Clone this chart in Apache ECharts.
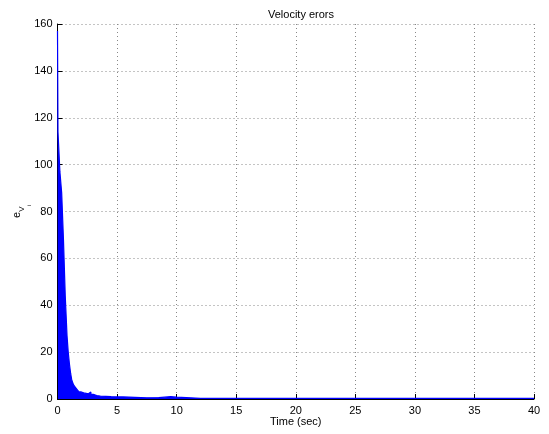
<!DOCTYPE html>
<html>
<head>
<meta charset="utf-8">
<script src="https://cdn.jsdelivr.net/npm/echarts@6/dist/echarts.min.js"></script>
<style>
html,body{margin:0;padding:0;background:#fff;}
#chart{width:549px;height:434px;}
</style>
</head>
<body>
<div id="chart"></div>
<script>
// Time samples (sec) and envelope of velocity errors
var times = [0, 0.04, 0.2, 0.35, 0.5, 0.65, 0.8, 0.9, 1.0, 1.1, 1.2, 1.35, 1.5, 1.65, 1.8, 2.0, 2.2, 2.4, 2.6, 2.8, 3.0, 3.3, 3.6, 4.5, 5.5, 6.5, 7.5, 8.5, 9.0, 9.5, 10.0, 12, 20, 30, 40];
var errors = [157, 114, 97, 88, 68, 44, 27, 20, 15, 11, 8, 6, 5, 4, 3, 2.6, 2.4, 2.2, 3.0, 2.0, 1.5, 1.2, 1.0, 0.9, 0.7, 0.5, 0.6, 0.8, 1.0, 0.8, 0.3, 0.3, 0.3, 0.3, 0.3];
var xTicks = [0, 5, 10, 15, 20, 25, 30, 35, 40];
var yTicks = [0, 20, 40, 60, 80, 100, 120, 140, 160];
var titleText = 'Velocity erors';
var xLabel = 'Time (sec)';

var data = times.map(function (t, i) { return [t, errors[i]]; });
var font = 'Liberation Sans, Arial, Helvetica, sans-serif';
var chart = echarts.init(document.getElementById('chart'), null, {renderer: 'canvas'});
var gridLine = {show: true, lineStyle: {color: '#888', type: [1, 3], width: 1}};
chart.setOption({
  animation: false,
  backgroundColor: '#fff',
  title: {
    text: titleText, left: 296, top: 4, textAlign: 'center',
    textStyle: {fontFamily: font, fontSize: 11, fontWeight: 'normal', color: '#000'}
  },
  grid: {left: 57.5, right: 15, top: 24, bottom: 35, containLabel: false, outerBoundsMode: 'none'},
  xAxis: {
    type: 'value', min: xTicks[0], max: xTicks[xTicks.length - 1], interval: 5,
    name: xLabel, nameLocation: 'middle', nameGap: 17, nameMoveOverlap: false,
    nameTextStyle: {fontFamily: font, fontSize: 11, color: '#000'},
    axisLine: {show: true, onZero: false, lineStyle: {color: '#000', width: 1}},
    axisTick: {show: true, inside: true, length: 5, lineStyle: {color: '#000'}},
    axisLabel: {fontFamily: font, fontSize: 11, color: '#000', margin: 6},
    splitLine: gridLine
  },
  yAxis: {
    type: 'value', min: yTicks[0], max: yTicks[yTicks.length - 1], interval: 20,
    name: '{a|e}{b|V}{c|i}', nameLocation: 'middle', nameGap: 25, nameRotate: 90, nameMoveOverlap: false,
    nameTextStyle: {
      fontFamily: font, color: '#000',
      rich: {
        a: {fontFamily: font, fontSize: 11, lineHeight: 12, verticalAlign: 'top', color: '#000'},
        b: {fontFamily: font, fontSize: 8, lineHeight: 10, verticalAlign: 'middle', color: '#000'},
        c: {fontFamily: font, fontSize: 6, lineHeight: 21, verticalAlign: 'bottom', color: '#000'}
      }
    },
    axisLine: {show: true, lineStyle: {color: '#000', width: 1}},
    axisTick: {show: true, inside: true, length: 5, lineStyle: {color: '#000'}},
    axisLabel: {fontFamily: font, fontSize: 11, color: '#000', margin: 5},
    splitLine: gridLine
  },
  series: [{
    type: 'line', data: data, step: 'end', symbol: 'none',
    lineStyle: {color: '#0000ff', width: 1.2},
    areaStyle: {color: '#0000ff', opacity: 1},
    z: 3
  }]
});
</script>
</body>
</html>
